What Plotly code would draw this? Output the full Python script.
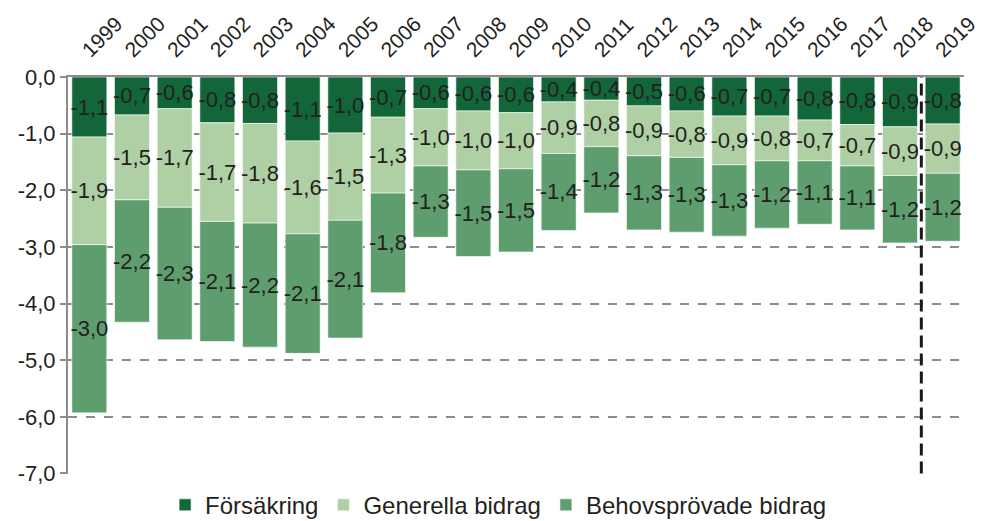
import plotly.graph_objects as go

years = [str(y) for y in range(1999, 2020)]

# Försäkring, Generella bidrag, Behovsprövade bidrag (per cent of GDP, negative)
forsakring = [-1.06, -0.67, -0.56, -0.81, -0.82, -1.13, -0.99, -0.71, -0.56, -0.60, -0.63,
              -0.44, -0.41, -0.51, -0.60, -0.69, -0.69, -0.76, -0.84, -0.88, -0.83]
generella = [-1.90, -1.50, -1.74, -1.74, -1.76, -1.64, -1.54, -1.34, -1.01, -1.04, -0.99,
             -0.91, -0.82, -0.88, -0.82, -0.86, -0.79, -0.72, -0.73, -0.86, -0.87]
behov = [-2.97, -2.16, -2.34, -2.12, -2.19, -2.11, -2.08, -1.76, -1.26, -1.53, -1.47,
         -1.36, -1.17, -1.31, -1.32, -1.26, -1.19, -1.12, -1.13, -1.19, -1.20]

series_names = ["Försäkring", "Generella bidrag", "Behovsprövade bidrag"]
series_colors = ["#12663a", "#aed0a4", "#5e9e6e"]

tick_vals = [0, -1, -2, -3, -4, -5, -6, -7]
tick_text = ["0,0", "-1,0", "-2,0", "-3,0", "-4,0", "-5,0", "-6,0", "-7,0"]

FONT = "Liberation Sans, Arial, sans-serif"
TXT = "#231f20"
FS = 22


def fmt(v):
    return f"{v:.1f}".replace(".", ",")


fig = go.Figure()
for name, vals, col in zip(series_names, [forsakring, generella, behov], series_colors):
    fig.add_trace(go.Bar(
        x=years, y=vals, name=name,
        marker=dict(color=col, line=dict(color="rgba(255,255,255,0.6)", width=1)),
        text=[fmt(v) for v in vals],
        textposition="inside",
        insidetextanchor="middle",
        textangle=0,
        constraintext="none",
        textfont=dict(size=FS, color=TXT, family=FONT),
        cliponaxis=False,
    ))

# separator between outcome and forecast
fig.add_shape(type="line", xref="x", yref="y", x0=19.5, x1=19.5, y0=-7, y1=0,
              line=dict(color="#1a1a1a", width=3, dash="12px,6px"))

# page body has an 8px margin, so the figure is a bit smaller than the window
fig.update_layout(
    barmode="relative",
    bargap=0.18,
    width=975, height=513,
    margin=dict(l=60, r=19, t=69, b=47, autoexpand=False),
    paper_bgcolor="white",
    plot_bgcolor="white",
    font=dict(family=FONT, size=FS, color=TXT),
    showlegend=True,
    legend=dict(orientation="h", x=0.48, xanchor="center", xref="paper",
                y=-0.022, yanchor="top", traceorder="normal",
                font=dict(size=24, color=TXT, family=FONT),
                itemwidth=30),
)

fig.update_xaxes(
    side="top", tickangle=-45, type="category", automargin=False,
    showline=True, linecolor="#8c8c8c", linewidth=2,
    showgrid=False, ticks="",
    ticklabelshift=-6, ticklabelstandoff=5,
    tickfont=dict(size=21, color=TXT, family=FONT),
)
fig.update_yaxes(
    range=[-7.01, 0], tickvals=tick_vals, ticktext=tick_text, automargin=False,
    showline=True, linecolor="#8c8c8c", linewidth=2,
    ticks="outside", ticklen=6, tickcolor="#8c8c8c", tickwidth=2,
    showgrid=True, gridcolor="#8c8c8c", gridwidth=2, griddash="dash",
    zeroline=False,
    tickfont=dict(size=FS, color=TXT, family=FONT),
)

fig.write_html("out.html")
